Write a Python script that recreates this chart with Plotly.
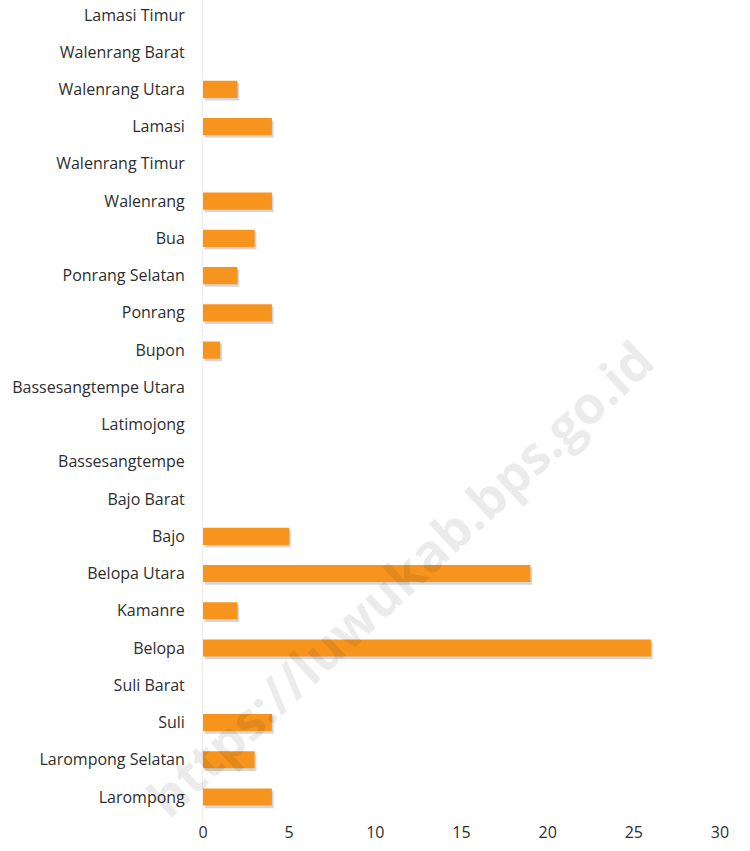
import plotly.graph_objects as go

categories = ["Larompong", "Larompong Selatan", "Suli", "Suli Barat", "Belopa", "Kamanre",
              "Belopa Utara", "Bajo", "Bajo Barat", "Bassesangtempe", "Latimojong",
              "Bassesangtempe Utara", "Bupon", "Ponrang", "Ponrang Selatan", "Bua",
              "Walenrang", "Walenrang Timur", "Lamasi", "Walenrang Utara", "Walenrang Barat",
              "Lamasi Timur"]
values = [4, 3, 4, 0, 26, 2, 19, 5, 0, 0, 0, 0, 1, 4, 2, 3, 4, 0, 4, 2, 0, 0]
x_ticks = [0, 5, 10, 15, 20, 25, 30]

fig = go.Figure()
# soft shadow beneath bars
fig.add_trace(go.Bar(
    y=categories, x=values, orientation="h",
    marker=dict(color="rgba(0,0,0,0.16)", line=dict(width=0)),
    width=0.46, offset=-0.3, base=0.1,
    hoverinfo="skip", showlegend=False,
))
fig.add_trace(go.Bar(
    y=categories, x=values, orientation="h",
    marker=dict(color="#F7941D", line=dict(width=0)),
    width=0.46, offset=-0.23,
    showlegend=False,
))

fig.add_annotation(
    text="https://luwukab.bps.go.id", xref="paper", yref="paper",
    x=0.38, y=0.297, xanchor="center", yanchor="middle",
    showarrow=False, textangle=-43,
    font=dict(family="Open Sans", size=52, color="rgba(0,0,0,0.08)", weight="bold"),
)

fig.update_layout(
    width=750, height=851,
    margin=dict(l=203, r=30, t=0, b=30),
    paper_bgcolor="white", plot_bgcolor="white",
    barmode="overlay",
    font=dict(family="Open Sans", size=16, color="#2E2E2E"),
    xaxis=dict(range=[0, 30], tickvals=x_ticks, showgrid=False, zeroline=False,
               showline=False, ticks="", tickfont=dict(size=16)),
    yaxis=dict(type="category", categoryorder="array", categoryarray=categories,
               range=[-0.644, 21.40], showgrid=False, zeroline=False,
               showline=True, linecolor="#EDEDED", linewidth=1,
               ticks="", ticklabelstandoff=14, tickfont=dict(size=16)),
)

fig.write_html("out.html", config={"displayModeBar": False},
               post_script="document.body.style.margin='0px';")
